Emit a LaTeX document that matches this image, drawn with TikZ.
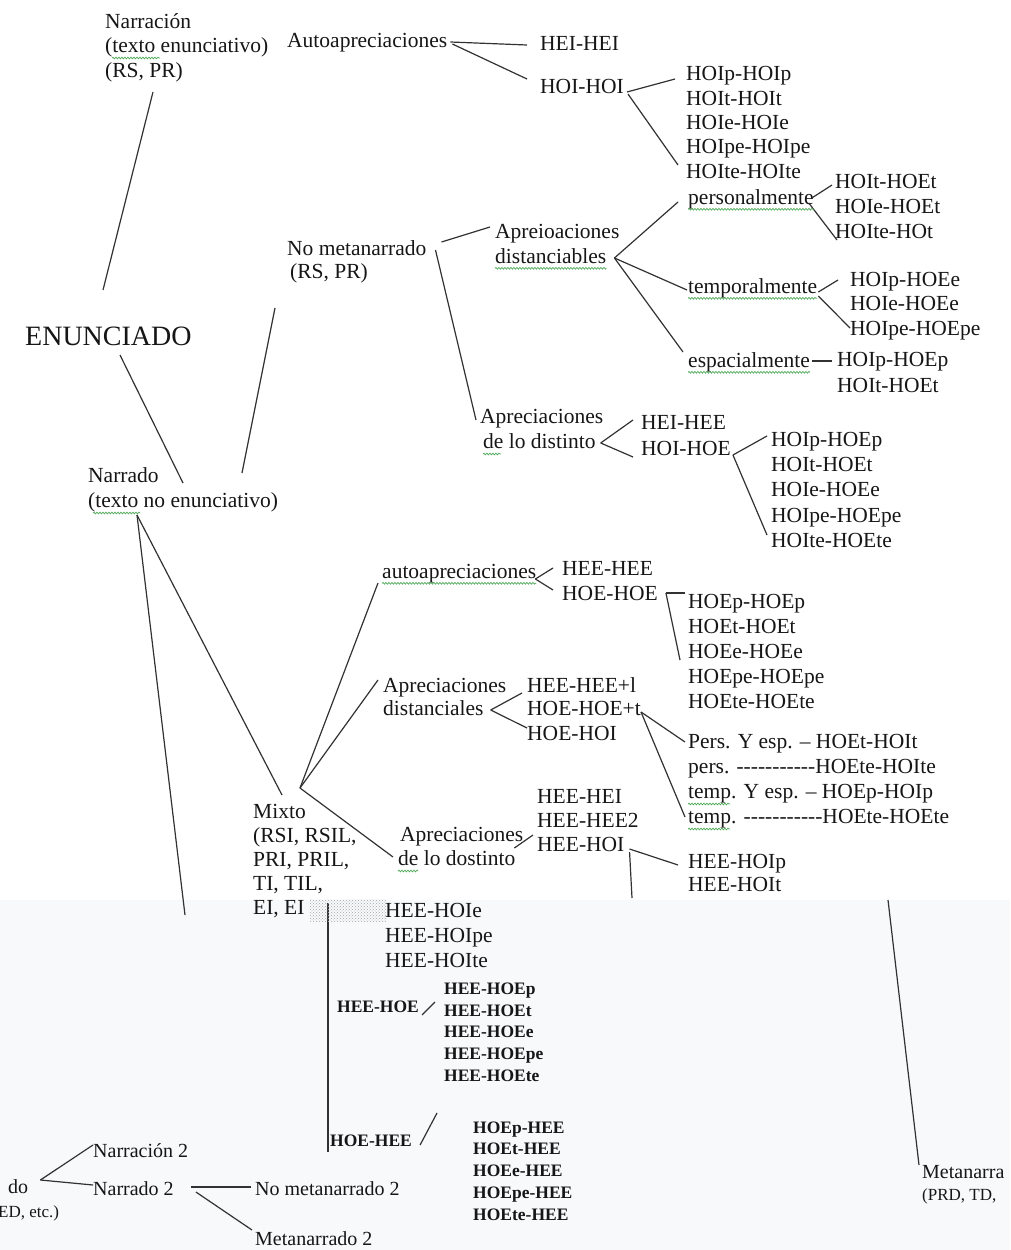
\documentclass[tikz,border=0pt]{standalone}
\usepackage{fontspec}
\setmainfont{Liberation Serif}
\usetikzlibrary{calc,decorations.pathmorphing,patterns}
\definecolor{ink}{RGB}{22,22,22}
\definecolor{linec}{RGB}{50,50,50}
\definecolor{squig}{RGB}{80,170,90}
\definecolor{lowbg}{RGB}{247,249,251}
\tikzset{
  lab/.style={anchor=west, inner sep=0pt, text=ink, font=\fontsize{21.5}{24}\selectfont, text height=15.5pt, text depth=4.7pt},
  labbig/.style={lab, font=\fontsize{28}{30}\selectfont, text height=20pt, text depth=6pt},
  labsm/.style={lab, font=\fontsize{17.5}{19}\selectfont\bfseries, text height=12.6pt, text depth=3.8pt},
  labmid/.style={lab, font=\fontsize{20}{22}\selectfont, text height=14.4pt, text depth=4.4pt},
  labxs/.style={lab, font=\fontsize{17}{19}\selectfont, text height=12.2pt, text depth=3.7pt},
  conn/.style={draw=linec, line width=1.2pt},
  sq/.style={draw=squig, line width=0.7pt, decorate, decoration={snake, amplitude=0.9pt, segment length=3pt}},
}
\begin{document}
\begin{tikzpicture}[x=1pt, y=-1pt]
\useasboundingbox (0,0) rectangle (1010,1250);
\fill[white] (0,0) rectangle (1010,1250);
\fill[lowbg] (0,900) rectangle (1010,1250);
\clip (0,0) rectangle (1010,1250);

% ---------- top block ----------
\node[lab] (n1a) at (105,23) {Narración};
\node[lab] (n1b) at (105,47) {(texto enunciativo)};
\node[lab] (n1c) at (105,72) {(RS, PR)};
\node[lab] (auto) at (287,42) {Autoapreciaciones};
\node[lab] (heihei) at (540,45) {HEI-HEI};
\node[lab] (hoihoi) at (540,88) {HOI-HOI};
\node[lab] (l1a) at (686,75) {HOIp-HOIp};
\node[lab] (l1b) at (686,100) {HOIt-HOIt};
\node[lab] (l1c) at (686,124) {HOIe-HOIe};
\node[lab] (l1d) at (686,148) {HOIpe-HOIpe};
\node[lab] (l1e) at (686,173) {HOIte-HOIte};
\node[lab] (pers) at (688,199) {personalmente};
\node[lab] (l2a) at (835,183) {HOIt-HOEt};
\node[lab] (l2b) at (835,208) {HOIe-HOEt};
\node[lab] (l2c) at (835,233) {HOIte-HOt};
\node[labbig] (enun) at (25,338) {ENUNCIADO};
\node[lab] (nm1) at (287,250) {No metanarrado};
\node[lab] (nm2) at (290,273) {(RS, PR)};
\node[lab] (ap1) at (495,233) {Apreioaciones};
\node[lab] (ap2) at (495,258) {distanciables};
\node[lab] (temp) at (688,288) {temporalmente};
\node[lab] (l3a) at (850,281) {HOIp-HOEe};
\node[lab] (l3b) at (850,305) {HOIe-HOEe};
\node[lab] (l3c) at (850,330) {HOIpe-HOEpe};
\node[lab] (espa) at (688,362) {espacialmente};
\node[lab] (l4a) at (837,361) {HOIp-HOEp};
\node[lab] (l4b) at (837,387) {HOIt-HOEt};
\node[lab] (ad1) at (480,418) {Apreciaciones};
\node[lab] (ad2) at (483,443) {de lo distinto};
\node[lab] (heihee) at (641,424) {HEI-HEE};
\node[lab] (hoihoe) at (641,450) {HOI-HOE};
\node[lab] (l5a) at (771,441) {HOIp-HOEp};
\node[lab] (l5b) at (771,466) {HOIt-HOEt};
\node[lab] (l5c) at (771,491) {HOIe-HOEe};
\node[lab] (l5d) at (771,517) {HOIpe-HOEpe};
\node[lab] (l5e) at (771,542) {HOIte-HOEte};
\node[lab] (nd1) at (88,477) {Narrado};
\node[lab] (nd2) at (88,502) {(texto no enunciativo)};

% ---------- middle block ----------
\node[lab] (autoap) at (382,573) {autoapreciaciones};
\node[lab] (heehee) at (562,570) {HEE-HEE};
\node[lab] (hoehoe) at (562,595) {HOE-HOE};
\node[lab] (l6a) at (688,603) {HOEp-HOEp};
\node[lab] (l6b) at (688,628) {HOEt-HOEt};
\node[lab] (l6c) at (688,653) {HOEe-HOEe};
\node[lab] (l6d) at (688,678) {HOEpe-HOEpe};
\node[lab] (l6e) at (688,703) {HOEte-HOEte};
\node[lab] (dc1) at (383,687) {Apreciaciones};
\node[lab] (dc2) at (383,710) {distanciales};
\node[lab] (l7a) at (527,687) {HEE-HEE+l};
\node[lab] (l7b) at (527,710) {HOE-HOE+t};
\node[lab] (l7c) at (527,735) {HOE-HOI};
\node[lab] (l8a) at (688,743) {Pers. Y esp. – HOEt-HOIt};
\node[lab] (l8b) at (688,768) {pers. -{}-{}-{}-{}-{}-{}-{}-{}-{}-{}-HOEte-HOIte};
\node[lab] (l8c) at (688,793) {temp. Y esp. – HOEp-HOIp};
\node[lab] (l8d) at (688,818) {temp. -{}-{}-{}-{}-{}-{}-{}-{}-{}-{}-HOEte-HOEte};
\node[lab] (mx1) at (253,813) {Mixto};
\node[lab] (mx2) at (253,837) {(RSI, RSIL,};
\node[lab] (mx3) at (253,861) {PRI, PRIL,};
\node[lab] (mx4) at (253,885) {TI, TIL,};
\node[lab] (mx5) at (253,909) {EI, EI};
\node[lab] (dd1) at (400,836) {Apreciaciones};
\node[lab] (dd2) at (398,860) {de lo dostinto};
\node[lab] (l9a) at (537,798) {HEE-HEI};
\node[lab] (l9b) at (537,822) {HEE-HEE2};
\node[lab] (l9c) at (537,846) {HEE-HOI};
\node[lab] (l10a) at (688,863) {HEE-HOIp};
\node[lab] (l10b) at (688,886) {HEE-HOIt};

% ---------- lower block ----------
\node[lab] (l11a) at (385,912) {HEE-HOIe};
\node[lab] (l11b) at (385,937) {HEE-HOIpe};
\node[lab] (l11c) at (385,962) {HEE-HOIte};
\node[labsm] (heehoe) at (337,1008) {HEE-HOE};
\node[labsm] (l12a) at (444,990) {HEE-HOEp};
\node[labsm] (l12b) at (444,1012) {HEE-HOEt};
\node[labsm] (l12c) at (444,1033) {HEE-HOEe};
\node[labsm] (l12d) at (444,1055) {HEE-HOEpe};
\node[labsm] (l12e) at (444,1077) {HEE-HOEte};
\node[labsm] (hoehee) at (330,1142) {HOE-HEE};
\node[labsm] (l13a) at (473,1129) {HOEp-HEE};
\node[labsm] (l13b) at (473,1150) {HOEt-HEE};
\node[labsm] (l13c) at (473,1172) {HOEe-HEE};
\node[labsm] (l13d) at (473,1194) {HOEpe-HEE};
\node[labsm] (l13e) at (473,1216) {HOEte-HEE};
\node[labmid] (frag1) at (8,1188) {do};
\node[labxs] (frag2) at (-2,1213) {ED, etc.)};
\node[labmid] (narr2) at (93,1152) {Narración 2};
\node[labmid] (nard2) at (93,1190) {Narrado 2};
\node[labmid] (nmeta2) at (255,1190) {No metanarrado 2};
\node[labmid] (meta2) at (255,1240) {Metanarrado 2};
\node[labmid] (metr1) at (922,1173) {Metanarra};
\node[labxs] (metr2) at (922,1196) {(PRD, TD,};

% free ends
\coordinate (longend) at (185,915);
\coordinate (mxapex) at (300,788);
\coordinate (vcut1) at (632,898);
\coordinate (vtop2) at (328,903);
\coordinate (vtop3) at (888,900);

% ---------- connectors ----------
\draw[conn] ($(n1c.west)+(48,20)$) -- ($(enun.west)+(78,-48)$);
\draw[conn] ($(auto.east)+(3,0)$) -- ($(heihei.west)+(-13,0)$);
\draw[conn] ($(auto.east)+(5,2)$) -- ($(hoihoi.west)+(-13,-9)$);
\draw[conn] ($(hoihoi.east)+(3,4)$) -- ($(l1a.west)+(-11,4)$);
\draw[conn] ($(hoihoi.east)+(4,6)$) -- ($(l1e.west)+(-8,-8)$);
\draw[conn] ($(ap2.east)+(8,0)$) -- ($(pers.west)+(-10,3)$);
\draw[conn] ($(pers.east)+(-2,-1)$) -- ($(l2a.west)+(-3,2)$);
\draw[conn] ($(pers.east)+(-5,4)$) -- ($(l2c.west)+(2,7)$);
\draw[conn] ($(ap2.east)+(8,0)$) -- ($(temp.west)+(-1,2)$);
\draw[conn] ($(ap2.east)+(8,0)$) -- ($(espa.west)+(-5,-10)$);
\draw[conn] ($(temp.east)+(1,4)$) -- ($(l3a.west)+(-12,-1)$);
\draw[conn] ($(temp.east)+(1,8)$) -- ($(l3c.west)+(0,-2)$);
\draw[conn] ($(espa.east)+(2,-1)$) -- ($(l4a.west)+(-5,0)$);
\draw[conn] ($(nm1.east)+(15,-8)$) -- ($(ap1.west)+(-5,-6)$);
\draw[conn] ($(nm1.east)+(9,0)$) -- ($(ad1.west)+(-4,2)$);
\draw[conn] ($(ad2.east)+(5,0)$) -- ($(heihee.west)+(-8,-4)$);
\draw[conn] ($(ad2.east)+(5,0)$) -- ($(hoihoe.west)+(-8,7)$);
\draw[conn] ($(hoihoe.east)+(2,5)$) -- ($(l5a.west)+(-4,-5)$);
\draw[conn] ($(hoihoe.east)+(2,5)$) -- ($(l5e.west)+(-4,-7)$);
\draw[conn] ($(enun.west)+(95,17)$) -- ($(nd1.west)+(95,6)$);
\draw[conn] ($(nd1.west)+(154,-4)$) -- ($(nm2.west)+(-15,35)$);
\draw[conn] ($(nd2.west)+(49,13)$) -- ($(mx1.west)+(29,-18)$);
\draw[conn] ($(nd2.west)+(49,13)$) -- (longend);
\draw[conn] ($(autoap.west)+(-4,10)$) -- (mxapex);
\draw[conn] ($(dc1.west)+(-5,-7)$) -- (mxapex);
\draw[conn] (mxapex) -- ($(dd2.west)+(-5,-3)$);
\draw[conn] ($(autoap.east)+(-1,6)$) -- ($(heehee.west)+(-9,-2)$);
\draw[conn] ($(autoap.east)+(-1,6)$) -- ($(hoehoe.west)+(-9,-5)$);
\draw[conn] ($(hoehoe.east)+(8,-2)$) -- ($(l6a.west)+(-3,-10)$);
\draw[conn] ($(hoehoe.east)+(8,-2)$) -- ($(l6c.west)+(-8,7)$);
\draw[conn] ($(dc2.east)+(7,0)$) -- ($(l7a.west)+(-5,6)$);
\draw[conn] ($(dc2.east)+(7,0)$) -- ($(l7c.west)+(0,-7)$);
\draw[conn] ($(l7b.east)+(0,2)$) -- ($(l8a.west)+(-3,-1)$);
\draw[conn] ($(l7b.east)+(0,2)$) -- ($(l8d.west)+(-3,-1)$);
\draw[conn] ($(dd1.east)+(-9,12)$) -- ($(l9b.west)+(-4,13)$);
\draw[conn] ($(l9c.east)+(5,3)$) -- ($(l10a.west)+(-10,2)$);
\draw[conn] ($(l9c.east)+(5,6)$) -- (vcut1);
\draw[conn] (vtop2) -- ($(hoehee.west)+(-2,10)$);
\draw[conn] ($(heehoe.east)+(3,7)$) -- ($(l12a.west)+(-9,12)$);
\draw[conn] ($(hoehee.east)+(8,3)$) -- ($(l13a.west)+(-36,-16)$);
\draw[conn] (vtop3) -- ($(metr1.west)+(-3,-8)$);
\draw[conn] ($(frag1.east)+(12,-8)$) -- ($(narr2.west)+(0,-7)$);
\draw[conn] ($(frag1.east)+(12,-8)$) -- ($(nard2.west)+(0,-5)$);
\draw[conn] ($(nard2.east)+(17,-3)$) -- ($(nmeta2.west)+(-4,-3)$);
\draw[conn] ($(nard2.east)+(22,2)$) -- ($(meta2.west)+(-3,-10)$);

% ---------- spell-check squiggles ----------
\draw[sq] ($(n1b.west)+(7,11)$) -- ($(n1b.west)+(55,11)$);
\draw[sq] ($(nd2.west)+(5,11)$) -- ($(nd2.west)+(52,11)$);
\draw[sq] (ap2.south west) -- (ap2.south east);
\draw[sq] (pers.south west) -- (pers.south east);
\draw[sq] (temp.south west) -- (temp.south east);
\draw[sq] (espa.south west) -- (espa.south east);
\draw[sq] (autoap.south west) -- (autoap.south east);
\draw[sq] ($(ad2.west)+(0,11)$) -- ($(ad2.west)+(18,11)$);
\draw[sq] ($(dd2.west)+(0,11)$) -- ($(dd2.west)+(20,11)$);
\draw[sq] ($(l8c.west)+(0,11)$) -- ($(l8c.west)+(42,11)$);
\draw[sq] ($(l8d.west)+(0,11)$) -- ($(l8d.west)+(42,11)$);

% ---------- scan glitch ----------
\fill[pattern=crosshatch dots, pattern color=gray!70] (310,899) rectangle (386,921);
\end{tikzpicture}
\end{document}
